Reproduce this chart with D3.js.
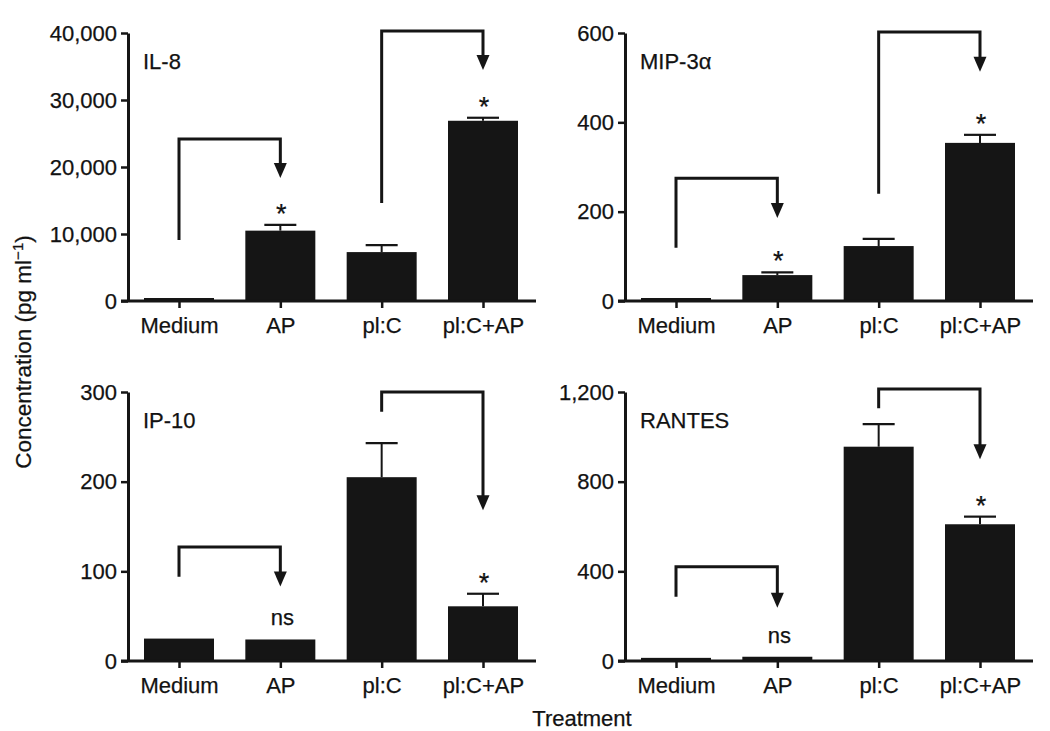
<!DOCTYPE html>
<html><head><meta charset="utf-8">
<script src="https://cdn.jsdelivr.net/npm/d3@7"></script>
<style>
html,body{margin:0;padding:0;background:#fff;}
text{font-family:"Liberation Sans",Arial,Helvetica,sans-serif;fill:#121212;stroke:#121212;stroke-width:0.25px;}
</style></head>
<body><svg id="chart" width="1050" height="731"></svg>
<script>
// ---------- data ----------
const categories = ["Medium", "AP", "pl:C", "pl:C+AP"];
const panelNames = ["IL-8", "MIP-3α", "IP-10", "RANTES"];

const il8Means   = [250, 10500, 7300, 26900];
const il8Errors  = [0, 850, 1050, 450];
const il8Ticks   = [0, 10000, 20000, 30000, 40000];

const mip3aMeans  = [2, 58, 123, 354];
const mip3aErrors = [0, 6, 16, 18];
const mip3aTicks  = [0, 200, 400, 600];

const ip10Means  = [25, 24, 205, 61];
const ip10Errors = [0, 0, 38, 14];
const ip10Ticks  = [0, 100, 200, 300];

const rantesMeans  = [14, 19, 956, 610];
const rantesErrors = [0, 0, 101, 34];
const rantesTicks  = [0, 400, 800, 1200];

// comparison brackets: [from, to, start value, top value, arrow tip value]
const il8Brackets    = [["Medium", "AP", 9100, 24180, 18360], ["pl:C", "pl:C+AP", 14630, 40300, 34480]];
const mip3aBrackets  = [["Medium", "AP", 119, 275, 186], ["pl:C", "pl:C+AP", 240, 602, 513]];
const ip10Brackets   = [["Medium", "AP", 94, 127, 83], ["pl:C", "pl:C+AP", 278, 300, 168]];
const rantesBrackets = [["Medium", "AP", 287, 421, 238], ["pl:C", "pl:C+AP", 1127, 1213, 900]];

// significance marks: [category, label]
const il8Sig    = [["AP", "*"], ["pl:C+AP", "*"]];
const mip3aSig  = [["AP", "*"], ["pl:C+AP", "*"]];
const ip10Sig   = [["AP", "ns"], ["pl:C+AP", "*"]];
const rantesSig = [["AP", "ns"], ["pl:C+AP", "*"]];

const xLabel = "Treatment";

// ---------- layout ----------
const panels = [
  {name: panelNames[0], means: il8Means, errs: il8Errors, ticks: il8Ticks, brackets: il8Brackets, sig: il8Sig, x: 128, top: 33, bottom: 301},
  {name: panelNames[1], means: mip3aMeans, errs: mip3aErrors, ticks: mip3aTicks, brackets: mip3aBrackets, sig: mip3aSig, x: 625, top: 33, bottom: 301},
  {name: panelNames[2], means: ip10Means, errs: ip10Errors, ticks: ip10Ticks, brackets: ip10Brackets, sig: ip10Sig, x: 128, top: 392, bottom: 661},
  {name: panelNames[3], means: rantesMeans, errs: rantesErrors, ticks: rantesTicks, brackets: rantesBrackets, sig: rantesSig, x: 625, top: 392, bottom: 661}
];

const svg = d3.select("#chart");
const ink = "#151515";
const barW = 70;
const fmt = d3.format(",");
const ff = '"Liberation Sans",Arial,sans-serif';

panels.forEach(p => {
  const g = svg.append("g").attr("transform", `translate(${p.x},0)`);
  const y = d3.scaleLinear().domain([0, d3.max(p.ticks)]).range([p.bottom, p.top]);
  const x = d3.scalePoint().domain(categories).range([51, 355]);

  // bars (tiny values still show as a thin slab)
  g.selectAll("rect.bar").data(categories).join("rect")
    .attr("class", "bar")
    .attr("x", c => x(c) - barW / 2)
    .attr("width", barW)
    .attr("y", (c, i) => Math.min(y(p.means[i]), p.bottom - 3))
    .attr("height", (c, i) => p.bottom - Math.min(y(p.means[i]), p.bottom - 3))
    .attr("fill", ink);

  // error bars (upward)
  categories.forEach((c, i) => {
    if (!p.errs[i]) return;
    const yt = y(p.means[i] + p.errs[i]);
    g.append("line").attr("x1", x(c)).attr("x2", x(c))
      .attr("y1", y(p.means[i])).attr("y2", yt)
      .attr("stroke", ink).attr("stroke-width", 2);
    g.append("line").attr("x1", x(c) - 16).attr("x2", x(c) + 16)
      .attr("y1", yt).attr("y2", yt)
      .attr("stroke", ink).attr("stroke-width", 2.2);
  });

  // y axis
  const yAxis = d3.axisLeft(y).tickValues(p.ticks).tickFormat(fmt).tickSize(7).tickSizeOuter(0).tickPadding(4);
  const ya = g.append("g").call(yAxis);
  ya.select(".domain").attr("stroke", ink).attr("stroke-width", 3);
  ya.selectAll(".tick line").attr("stroke", ink).attr("stroke-width", 2.5);
  ya.selectAll(".tick text").attr("font-size", 22).attr("font-family", ff);

  // x axis
  const xAxis = d3.axisBottom(x).tickSize(7).tickPadding(9);
  const xa = g.append("g").attr("transform", `translate(0,${p.bottom})`).call(xAxis);
  xa.select(".domain").remove();
  xa.append("line").attr("x1", -7).attr("x2", 408).attr("y1", 0).attr("y2", 0)
    .attr("stroke", ink).attr("stroke-width", 3);
  xa.selectAll(".tick line").attr("stroke", ink).attr("stroke-width", 2.5);
  xa.selectAll(".tick text").attr("font-size", 22).attr("font-family", ff);

  // panel label
  g.append("text").attr("x", 15).attr("y", p.top + 36).attr("font-size", 22).text(p.name);

  // brackets with arrows
  p.brackets.forEach(b => {
    const [from, to, s, t, tip] = b;
    const x0 = x(from), x1 = x(to);
    const yTip = y(tip);
    g.append("path")
      .attr("d", `M${x0},${y(s)} V${y(t)} H${x1} V${yTip - 12}`)
      .attr("fill", "none").attr("stroke", ink).attr("stroke-width", 3)
      .attr("stroke-linejoin", "miter");
    g.append("path")
      .attr("d", `M${x1 - 6.5},${yTip - 15} L${x1 + 6.5},${yTip - 15} L${x1},${yTip} Z`)
      .attr("fill", ink);
  });

  // significance labels
  p.sig.forEach(sg => {
    const i = categories.indexOf(sg[0]);
    const topVal = y(p.means[i] + p.errs[i]);
    if (sg[1] === "*") {
      g.append("text").attr("x", x(sg[0]) + 1).attr("y", topVal - 2)
        .attr("text-anchor", "middle").attr("font-size", 27).text(sg[1]);
    } else {
      g.append("text").attr("x", x(sg[0]) + 2).attr("y", topVal - 14)
        .attr("text-anchor", "middle").attr("font-size", 22).text(sg[1]);
    }
  });
});

// shared axis titles
svg.append("text").attr("x", 582).attr("y", 726).attr("text-anchor", "middle")
  .attr("font-size", 22).text(xLabel);

const yt = svg.append("text").attr("transform", "translate(31,352) rotate(-90)")
  .attr("text-anchor", "middle").attr("font-size", 22.5);
yt.append("tspan").text("Concentration (pg ml");
yt.append("tspan").attr("font-size", 15).attr("dy", -8).text("−1");
yt.append("tspan").attr("dy", 8).text(")");
</script>
</body></html>
